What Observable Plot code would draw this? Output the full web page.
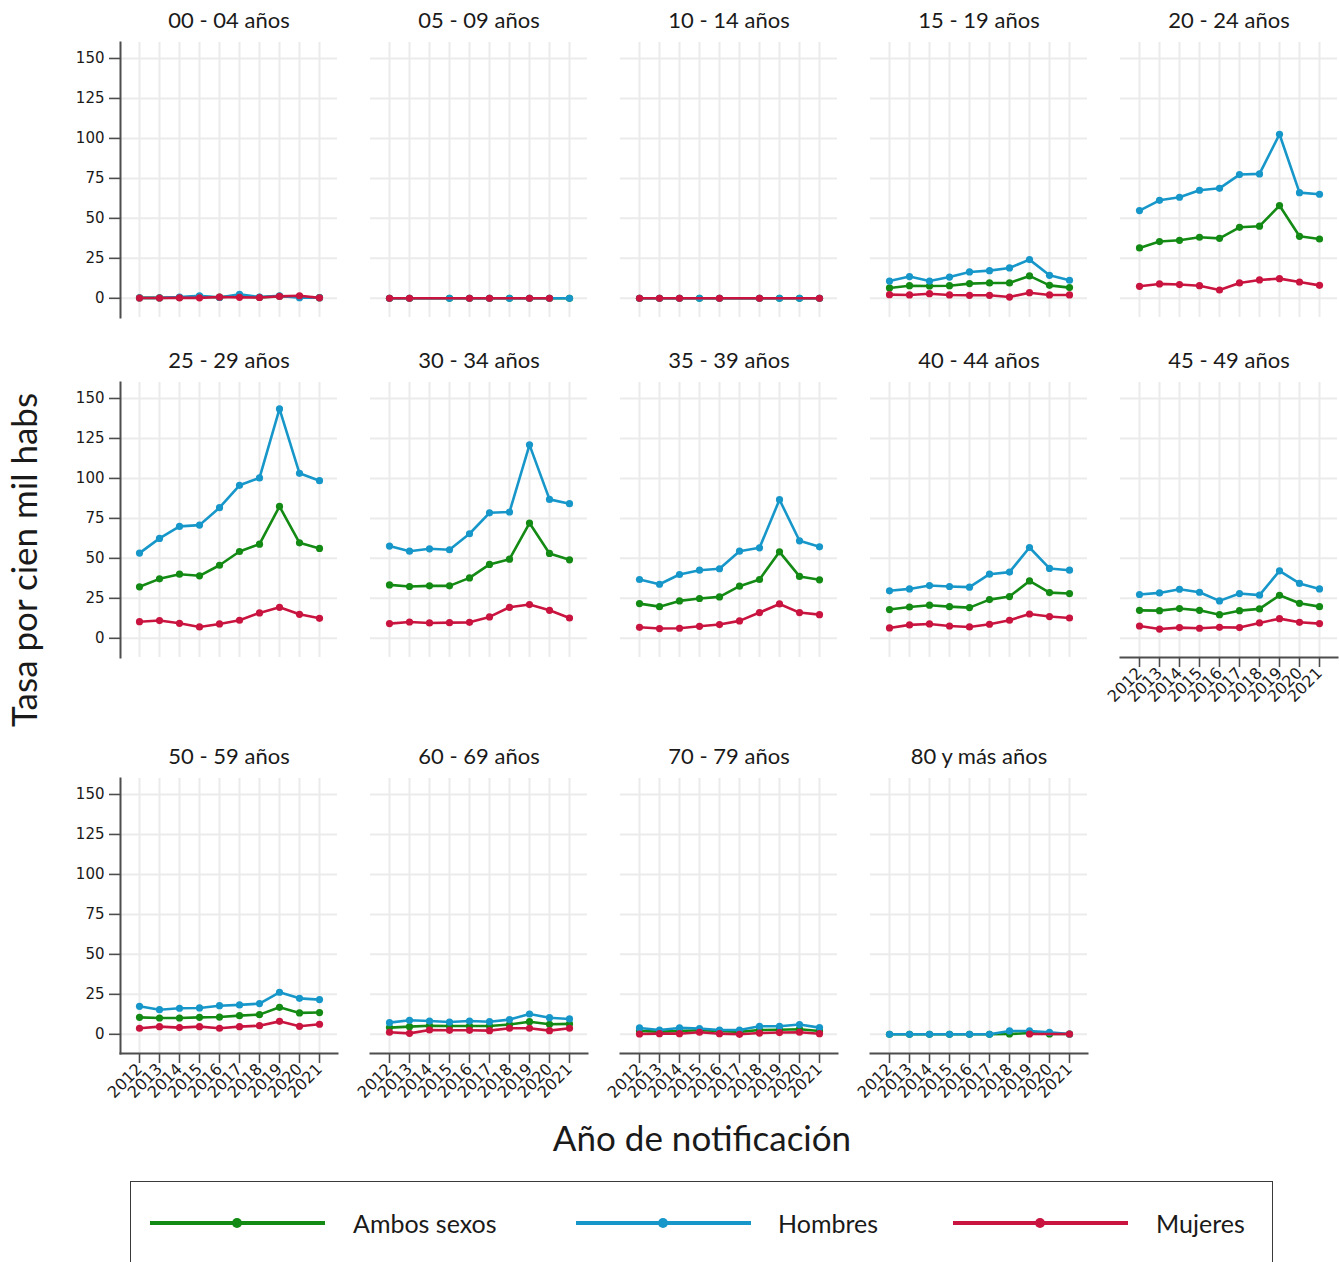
<!DOCTYPE html>
<html><head><meta charset="utf-8">
<script src="https://cdn.jsdelivr.net/npm/d3@7"></script>
<script src="https://cdn.jsdelivr.net/npm/@observablehq/plot@0.6"></script>
<style>
body{margin:0;background:#fff;}
#root{position:relative;width:1339px;height:1262px;overflow:hidden;background:#fff;font-family:Lato,"Open Sans",sans-serif;color:#1a1a1a;}
.abs{position:absolute;}
</style></head><body><div id="root"></div>
<script>
// ---- data ----
const years = ["2012","2013","2014","2015","2016","2017","2018","2019","2020","2021"];
const groups = ["00 - 04 años","05 - 09 años","10 - 14 años","15 - 19 años","20 - 24 años",
  "25 - 29 años","30 - 34 años","35 - 39 años","40 - 44 años","45 - 49 años",
  "50 - 59 años","60 - 69 años","70 - 79 años","80 y más años"];
const seriesNames = ["Ambos sexos","Hombres","Mujeres"];
const seriesColors = ["#138a13","#1797c9","#c9143f"];
const yTicks = [0,25,50,75,100,125,150];

const ambos = [
  [0.3,0.3,0.5,1.0,0.7,1.5,0.6,1.3,1.0,0.4],
  [0,0,null,0,0,0,0,0,0,0],
  [0,0,0,0,0,null,0,0,0,0],
  [6.5,7.9,7.7,7.9,9.2,9.6,9.6,14.0,8.1,6.7],
  [31.5,35.5,36.3,38.2,37.5,44.4,45.1,58.0,38.8,37.1],
  [32.2,37.2,40.1,39.1,45.7,54.3,58.9,82.5,59.7,56.2],
  [33.4,32.4,32.8,32.8,37.8,46.2,49.5,72.1,53.1,49.1],
  [21.7,19.8,23.4,24.9,25.9,32.6,36.8,54.1,38.7,36.6],
  [18.0,19.6,20.7,19.8,19.2,24.2,26.1,35.9,28.6,28.0],
  [17.5,17.3,18.6,17.5,14.8,17.3,18.4,26.9,21.9,19.8],
  [10.6,10.2,10.2,10.6,10.8,11.7,12.3,16.9,13.4,13.6],
  [4.2,4.8,5.4,5.2,5.2,5.2,6.1,7.9,6.3,6.5],
  [2.1,1.7,2.1,2.5,2.1,1.5,2.7,2.9,3.2,2.1],
  [0,0,0,0,0,0,0.2,0.8,0.2,0.2]
];
const hombres = [
  [0.3,0.3,0.8,1.6,0.5,2.5,0.8,1.5,0.4,0.4],
  [0,0,null,0,0,0,0,0,0,0],
  [0,0,0,0,0,null,0,0,0,0],
  [10.8,13.6,10.8,13.3,16.5,17.3,19.0,24.2,14.4,11.3],
  [54.9,61.3,63.2,67.6,68.8,77.4,77.8,102.6,66.1,65.1],
  [53.3,62.5,70.0,70.8,81.7,95.7,100.3,143.5,103.2,98.6],
  [57.7,54.5,56.0,55.4,65.4,78.5,79.0,121.0,86.9,84.2],
  [36.8,33.8,39.9,42.6,43.5,54.5,56.6,86.7,61.0,57.2],
  [29.7,30.9,33.0,32.4,32.0,40.1,41.4,56.8,43.7,42.6],
  [27.4,28.4,30.7,28.8,23.4,28.0,27.0,42.2,34.3,30.9],
  [17.5,15.4,16.3,16.5,17.9,18.4,19.2,26.3,22.5,21.7],
  [7.3,8.8,8.3,7.7,8.3,7.9,9.2,12.7,10.4,9.6],
  [4.0,2.7,4.0,3.6,2.7,2.7,5.0,5.0,6.1,4.2],
  [0,0,0,0,0,0,2.1,2.1,1.2,0.2]
];
const mujeres = [
  [0.2,0.2,0.3,0.3,0.8,0.6,0.5,1.2,1.6,0.3],
  [0,0,null,null,0,0,null,0,0,null],
  [0,0,0,null,0,null,0,null,null,0],
  [2.3,2.1,2.9,2.1,1.9,1.9,0.8,3.5,2.1,2.1],
  [7.5,9.0,8.6,7.9,5.2,9.6,11.5,12.3,10.2,8.1],
  [10.4,11.1,9.4,7.1,9.0,11.3,15.9,19.4,15.0,12.5],
  [9.2,10.2,9.6,9.8,10.0,13.4,19.4,21.1,17.5,12.7],
  [6.9,6.1,6.3,7.5,8.6,10.9,16.1,21.5,16.1,14.8],
  [6.5,8.4,9.0,7.7,7.1,8.8,11.3,15.2,13.6,12.7],
  [7.7,5.8,6.7,6.3,6.9,6.7,9.6,12.3,10.0,9.2],
  [3.8,4.8,4.2,4.8,3.8,4.8,5.4,8.1,5.0,6.3],
  [1.3,0.6,2.7,2.5,2.5,2.3,3.8,3.8,2.3,3.8],
  [0.2,0.4,0.4,1.3,0.4,0.0,0.8,1.1,1.3,0.4],
  [null,null,null,null,null,null,null,0.2,null,0.2]
];
const seriesValues = [ambos, hombres, mujeres];

// ---- layout ----
const root = document.getElementById("root");
const rowTops = [42, 382, 778];
const colLeft0 = 120, colPitch = 250, frameW = 217, frameH = 275;
const mL = 64, mR = 6, mT = 44, mB = 72;
const axisColor = "#4d4d4d";
const gridColor = "#ebebeb";

function rowsFor(gi, si) {
  return years.map((yr, i) => ({year: yr, value: seriesValues[si][gi][i]}))
    .filter(d => d.value != null);
}

function panel(gi, row, col, showY, showX) {
  const marks = [
    Plot.gridX(years, {stroke: gridColor, strokeOpacity: 1, strokeWidth: 2}),
    Plot.gridY(yTicks, {stroke: gridColor, strokeOpacity: 1, strokeWidth: 2})
  ];
  seriesNames.forEach((s, si) => {
    const d = rowsFor(gi, si);
    marks.push(Plot.line(d, {x: "year", y: "value", stroke: seriesColors[si], strokeWidth: 2.6, strokeLinejoin: "round"}));
    marks.push(Plot.dot(d, {x: "year", y: "value", fill: seriesColors[si], r: 3.6, stroke: null}));
  });
  if (showY) {
    marks.push(Plot.axisY(yTicks, {tickSize: 11, tickPadding: 5, fontSize: 15, fontFamily: "DejaVu Sans", fill: "#1a1a1a", stroke: axisColor, strokeWidth: 1.6, label: null}));
    marks.push(Plot.frame({anchor: "left", stroke: axisColor, strokeWidth: 2}));
  }
  if (showX) {
    marks.push(Plot.axisX({tickSize: 10, tickPadding: 3, tickRotate: -45, fontSize: 16, fontFamily: "DejaVu Sans", fill: "#1a1a1a", stroke: axisColor, strokeWidth: 1.6, label: null}));
    marks.push(Plot.frame({anchor: "bottom", stroke: axisColor, strokeWidth: 2}));
  }
  marks.push(Plot.text([groups[gi]], {frameAnchor: "top", lineAnchor: "middle", dy: -22, fontSize: 22, fontFamily: "Lato", fill: "#1a1a1a"}));
  const chart = Plot.plot({
    width: mL + frameW + mR,
    height: mT + frameH + mB,
    marginLeft: mL, marginRight: mR, marginTop: mT, marginBottom: mB,
    style: {background: "none", overflow: "visible"},
    x: {type: "point", domain: years, padding: 0.87, axis: showX ? undefined : null},
    y: {domain: [-12, 160], axis: showY ? undefined : null},
    marks
  });
  chart.style.position = "absolute";
  chart.style.left = (colLeft0 + col * colPitch - mL) + "px";
  chart.style.top = (rowTops[row] - mT) + "px";
  root.appendChild(chart);
}

groups.forEach((g, gi) => {
  const row = Math.floor(gi / 5), col = gi % 5;
  const showY = col === 0;
  const showX = row === 2 || (row === 1 && col === 4);
  panel(gi, row, col, showY, showX);
});

// axis titles
const yl = document.createElement("div");
yl.className = "abs";
yl.textContent = "Tasa por cien mil habs";
Object.assign(yl.style, {left: "23px", top: "560px", transform: "translate(-50%,-50%) rotate(-90deg)", whiteSpace: "nowrap", fontSize: "35px", fontFamily: "Lato"});
root.appendChild(yl);

const xl = document.createElement("div");
xl.className = "abs";
xl.textContent = "Año de notificación";
Object.assign(xl.style, {left: "702px", top: "1137px", transform: "translate(-50%,-50%)", whiteSpace: "nowrap", fontSize: "35px", fontFamily: "Lato"});
root.appendChild(xl);

// legend
const box = document.createElement("div");
box.className = "abs";
Object.assign(box.style, {left: "130px", top: "1181px", width: "1143px", height: "120px", border: "1.5px solid #3a3a3a", boxSizing: "border-box"});
root.appendChild(box);
const legendPos = [[150, 353], [576, 778], [953, 1156]];
seriesNames.forEach((s, si) => {
  const [lx, tx] = legendPos[si];
  const ln = document.createElement("div");
  ln.className = "abs";
  Object.assign(ln.style, {left: lx + "px", top: "1221px", width: "175px", height: "4px", background: seriesColors[si]});
  root.appendChild(ln);
  const dt = document.createElement("div");
  dt.className = "abs";
  Object.assign(dt.style, {left: (lx + 87 - 5) + "px", top: "1218px", width: "10px", height: "10px", borderRadius: "50%", background: seriesColors[si]});
  root.appendChild(dt);
  const tt = document.createElement("div");
  tt.className = "abs";
  tt.textContent = s;
  Object.assign(tt.style, {left: tx + "px", top: "1223px", transform: "translateY(-50%)", fontSize: "25px", fontFamily: "Lato", whiteSpace: "nowrap"});
  root.appendChild(tt);
});
</script></body></html>
